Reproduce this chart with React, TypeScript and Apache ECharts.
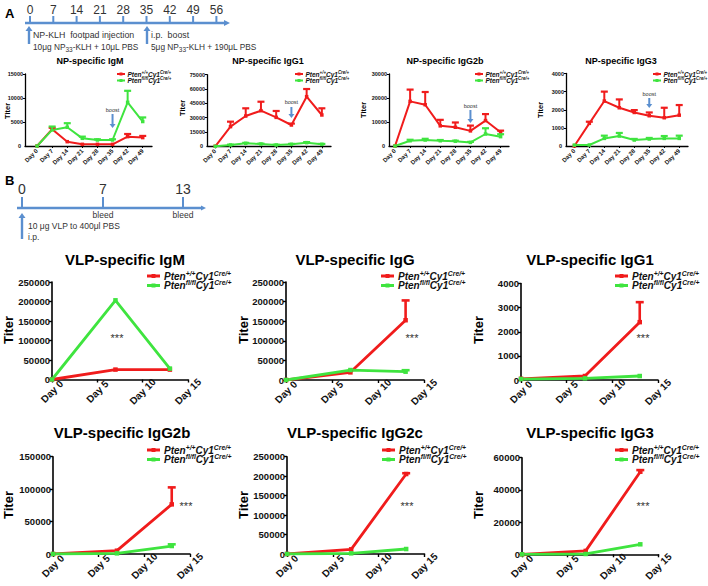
import React, { useEffect, useRef } from 'react';
import * as echarts from 'echarts';

const RED = '#f01c1c';
const GREEN = '#3fe43f';
const BLUE = '#5b8fcf';
const FONT = 'Liberation Sans, Arial, sans-serif';

// ---------- Panel A data (NP-KLH immunization) ----------
const daysA = [0, 7, 14, 21, 28, 35, 42, 49];
const timelineA = [0, 7, 14, 21, 28, 35, 42, 49, 56];

const npIgM_wt = [0, 3500, 900, 350, 350, 350, 1950, 1750];
const npIgM_wtErr = [0, 300, 0, 0, 0, 0, 550, 350];
const npIgM_ko = [0, 3350, 3900, 1600, 1250, 1250, 9100, 5100];
const npIgM_koErr = [0, 700, 850, 350, 150, 150, 2400, 850];

const npIgG1_wt = [0, 20600, 31700, 37300, 30300, 22300, 52000, 32800];
const npIgG1_wtErr = [0, 5200, 8100, 9400, 6700, 1500, 8000, 7000];
const npIgG1_ko = [0, 1400, 3100, 2400, 1400, 2100, 3800, 2100];
const npIgG1_koErr = [0, 300, 500, 400, 300, 400, 600, 400];

const npIgG2b_wt = [0, 18600, 17200, 8400, 7800, 6300, 10600, 5700];
const npIgG2b_wtErr = [0, 4900, 5300, 2500, 2000, 2200, 2700, 700];
const npIgG2b_ko = [0, 2200, 2500, 2200, 2000, 1500, 5000, 3900];
const npIgG2b_koErr = [0, 400, 500, 300, 200, 200, 2400, 1000];

const npIgG3_wt = [0, 1250, 2480, 2110, 1850, 1670, 1560, 1700];
const npIgG3_wtErr = [0, 90, 520, 460, 130, 180, 550, 560];
const npIgG3_ko = [50, 55, 420, 550, 330, 385, 420, 420];
const npIgG3_koErr = [0, 0, 150, 170, 60, 60, 130, 150];

// ---------- Panel B data (VLP immunization) ----------
const daysB = [0, 7, 13];
const timelineB = [0, 7, 13];

const vlpIgM_wt = [0, 25400, 25400];
const vlpIgM_wtErr = [0, 0, 0];
const vlpIgM_ko = [0, 203000, 28000];
const vlpIgM_koErr = [0, 0, 0];

const vlpIgG_wt = [0, 19500, 152500];
const vlpIgG_wtErr = [0, 0, 50500];
const vlpIgG_ko = [0, 25400, 21200];
const vlpIgG_koErr = [0, 0, 3800];

const vlpIgG1_wt = [50, 165, 2400];
const vlpIgG1_wtErr = [0, 0, 830];
const vlpIgG1_ko = [40, 70, 165];
const vlpIgG1_koErr = [0, 0, 0];

const vlpIgG2b_wt = [0, 5100, 76500];
const vlpIgG2b_wtErr = [0, 0, 26200];
const vlpIgG2b_ko = [0, 1000, 12300];
const vlpIgG2b_koErr = [0, 0, 2600];

const vlpIgG2c_wt = [0, 12000, 205500];
const vlpIgG2c_wtErr = [0, 0, 2000];
const vlpIgG2c_ko = [0, 1700, 12800];
const vlpIgG2c_koErr = [0, 0, 0];

const vlpIgG3_wt = [0, 2100, 51300];
const vlpIgG3_wtErr = [0, 0, 1000];
const vlpIgG3_ko = [0, 200, 6200];
const vlpIgG3_koErr = [0, 0, 0];

type Panel = {
  title: string;
  tx: number; ty: number;
  g: { left: number; top: number; width: number; height: number };
  xMin: number; xMax: number;
  yMax: number; yInt: number;
  days: number[];
  wt: number[]; wtErr: number[]; ko: number[]; koErr: number[];
  legX: number; legY1: number; legY2: number;
  titer: [number, number];
  stars?: [number, number];
  boost?: [number, number, number];
  small: boolean;
};

const panelsA: Panel[] = [
  { title: 'NP-specific IgM', tx: 90, ty: 61, g: { left: 25, top: 74, width: 127, height: 72 }, xMin: -5.6, xMax: 53.3, yMax: 15000, yInt: 5000, days: daysA, wt: npIgM_wt, wtErr: npIgM_wtErr, ko: npIgM_ko, koErr: npIgM_koErr, legX: 117, legY1: 74, legY2: 80.5, titer: [7, 111], boost: [110, 114, 128], small: true },
  { title: 'NP-specific IgG1', tx: 268, ty: 61, g: { left: 207, top: 74.7, width: 124, height: 71.6 }, xMin: -3.8, xMax: 53.2, yMax: 75000, yInt: 15000, days: daysA, wt: npIgG1_wt, wtErr: npIgG1_wtErr, ko: npIgG1_ko, koErr: npIgG1_koErr, legX: 295, legY1: 74, legY2: 80.5, titer: [182, 108], boost: [102, 107, 118], small: true },
  { title: 'NP-specific IgG2b', tx: 445, ty: 61, g: { left: 389, top: 74, width: 120, height: 72 }, xMin: -2.8, xMax: 52.9, yMax: 30000, yInt: 10000, days: daysA, wt: npIgG2b_wt, wtErr: npIgG2b_wtErr, ko: npIgG2b_ko, koErr: npIgG2b_koErr, legX: 475, legY1: 74, legY2: 80.5, titer: [363, 110], boost: [106, 110, 123], small: true },
  { title: 'NP-specific IgG3', tx: 621, ty: 61, g: { left: 566, top: 73.5, width: 122, height: 72.5 }, xMin: -3.9, xMax: 53.1, yMax: 4000, yInt: 1000, days: daysA, wt: npIgG3_wt, wtErr: npIgG3_wtErr, ko: npIgG3_ko, koErr: npIgG3_koErr, legX: 653, legY1: 74, legY2: 80.5, titer: [540, 110], boost: [94, 98, 108], small: true },
];

const panelsB: Panel[] = [
  { title: 'VLP-specific IgM', tx: 125, ty: 259, g: { left: 52, top: 282, width: 136, height: 97.5 }, xMin: 0, xMax: 15, yMax: 250000, yInt: 50000, days: daysB, wt: vlpIgM_wt, wtErr: vlpIgM_wtErr, ko: vlpIgM_ko, koErr: vlpIgM_koErr, legX: 147, legY1: 276, legY2: 285.5, titer: [8, 330], stars: [117, 338], small: false },
  { title: 'VLP-specific IgG', tx: 355, ty: 259, g: { left: 286, top: 282, width: 138, height: 98 }, xMin: 0, xMax: 15, yMax: 250000, yInt: 50000, days: daysB, wt: vlpIgG_wt, wtErr: vlpIgG_wtErr, ko: vlpIgG_ko, koErr: vlpIgG_koErr, legX: 381, legY1: 276, legY2: 285.5, titer: [243, 330], stars: [412, 338], small: false },
  { title: 'VLP-specific IgG1', tx: 590, ty: 259, g: { left: 521, top: 283.6, width: 137, height: 96.4 }, xMin: 0, xMax: 15, yMax: 4000, yInt: 1000, days: daysB, wt: vlpIgG1_wt, wtErr: vlpIgG1_wtErr, ko: vlpIgG1_ko, koErr: vlpIgG1_koErr, legX: 615, legY1: 276, legY2: 285.5, titer: [478, 330], stars: [643, 338], small: false },
  { title: 'VLP-specific IgG2b', tx: 122, ty: 432, g: { left: 53, top: 456.7, width: 137, height: 97.3 }, xMin: 0, xMax: 15, yMax: 150000, yInt: 50000, days: daysB, wt: vlpIgG2b_wt, wtErr: vlpIgG2b_wtErr, ko: vlpIgG2b_ko, koErr: vlpIgG2b_koErr, legX: 147, legY1: 450, legY2: 459.5, titer: [8, 505], stars: [186, 506], small: false },
  { title: 'VLP-specific IgG2c', tx: 355, ty: 432, g: { left: 287, top: 456.7, width: 137.5, height: 97.3 }, xMin: 0, xMax: 15, yMax: 250000, yInt: 50000, days: daysB, wt: vlpIgG2c_wt, wtErr: vlpIgG2c_wtErr, ko: vlpIgG2c_ko, koErr: vlpIgG2c_koErr, legX: 382, legY1: 450, legY2: 459.5, titer: [243, 505], stars: [407, 506], small: false },
  { title: 'VLP-specific IgG3', tx: 590, ty: 432, g: { left: 522, top: 457.7, width: 136.5, height: 96.6 }, xMin: 0, xMax: 15, yMax: 60000, yInt: 20000, days: daysB, wt: vlpIgG3_wt, wtErr: vlpIgG3_wtErr, ko: vlpIgG3_ko, koErr: vlpIgG3_koErr, legX: 615, legY1: 450, legY2: 459.5, titer: [478, 505], stars: [643, 506], small: false },
];

function txt(x: number, y: number, text: string, fontSize: number, o: any = {}) {
  return {
    type: 'text', x, y, silent: true, rotation: o.rot || 0, z: 10,
    style: {
      text, fontSize, fontFamily: FONT, fill: o.fill || '#1a1a1a',
      fontWeight: o.bold ? 'bold' : 'normal', fontStyle: o.italic ? 'italic' : 'normal',
      align: o.align || 'left', verticalAlign: o.va || 'middle',
      textAlign: o.align || 'left', textVerticalAlign: o.va || 'middle',
      rich: o.rich,
    },
  };
}
function ln(x1: number, y1: number, x2: number, y2: number, color: string, w: number) {
  return { type: 'line', silent: true, z: 10, shape: { x1, y1, x2, y2 }, style: { stroke: color, lineWidth: w } };
}
function poly(points: number[][], color: string) {
  return { type: 'polygon', silent: true, z: 10, shape: { points }, style: { fill: color } };
}
function arrowUp(x: number, yHead: number, yTail: number, w: number, hl: number, hw: number) {
  return [ln(x, yTail, x, yHead + hl, BLUE, w), poly([[x - hw, yHead + hl], [x + hw, yHead + hl], [x, yHead]], BLUE)];
}
function arrowDown(x: number, yTail: number, yHead: number, w: number, hl: number, hw: number) {
  return [ln(x, yTail, x, yHead - hl, BLUE, w), poly([[x - hw, yHead - hl], [x + hw, yHead - hl], [x, yHead]], BLUE)];
}

function legendRich(fs: number) {
  const base = { fontFamily: FONT, fontStyle: 'italic', fontWeight: 'bold', fontSize: fs, fill: '#111', color: '#111' };
  const sup = { fontFamily: FONT, fontStyle: 'italic', fontWeight: 'bold', fontSize: fs * 0.68, fill: '#111', color: '#111', padding: [0, 0, fs * 0.6, 0] };
  return { i: base, s: sup };
}

function buildOption() {
  const grid: any[] = [];
  const xAxis: any[] = [];
  const yAxis: any[] = [];
  const series: any[] = [];
  const graphic: any[] = [];

  const all = [...panelsA, ...panelsB];
  all.forEach((p, idx) => {
    const s = p.small;
    grid.push({ ...p.g, containLabel: false });
    const axisLine = { show: true, onZero: false, lineStyle: { color: '#000', width: s ? 1.3 : 1.6 } };
    const xa: any = {
      type: 'value', gridIndex: idx, min: p.xMin, max: p.xMax,
      axisLine, splitLine: { show: false },
      axisTick: { show: true, length: s ? 2 : 3, lineStyle: { color: '#000', width: s ? 1 : 1.4 } },
      axisLabel: {
        rotate: 45, fontSize: s ? 6 : 10, fontWeight: 'bold', fontFamily: FONT, color: '#111',
        formatter: (v: number) => 'Day ' + v, hideOverlap: false,
        showMinLabel: true, showMaxLabel: true,
      },
    };
    if (s) {
      xa.axisLabel.customValues = p.days;
      xa.axisTick.customValues = p.days;
      xa.axisLabel.margin = 4;
    } else {
      xa.interval = 5;
      xa.axisLabel.align = 'center';
      xa.axisLabel.verticalAlign = 'middle';
      xa.axisLabel.margin = 12;
    }
    xAxis.push(xa);
    yAxis.push({
      type: 'value', gridIndex: idx, min: 0, max: p.yMax, interval: p.yInt,
      axisLine, splitLine: { show: false },
      axisTick: { show: true, length: s ? 2 : 3, lineStyle: { color: '#000', width: s ? 1 : 1.4 } },
      axisLabel: {
        fontSize: s ? 5.5 : 9.5, fontWeight: 'bold', fontFamily: FONT, color: '#111', margin: 2,
        formatter: (v: number) => String(v), showMinLabel: !s, showMaxLabel: true, hideOverlap: false,
      },
    });
    if (s) {
      // zero label of the small panels (ECharts hides it next to the rotated "Day 0")
      graphic.push(txt(p.g.left - 4, p.g.top + p.g.height, '0', 5.5, { bold: true, align: 'right', fill: '#111' }));
    }

    const lw = s ? 2 : 2.8;
    const groups: [number[], number[], string][] = [[p.wt, p.wtErr, RED], [p.ko, p.koErr, GREEN]];
    groups.forEach(([vals, errs, color]) => {
      series.push({
        type: 'line', xAxisIndex: idx, yAxisIndex: idx, silent: true,
        data: p.days.map((d, i) => [d, vals[i]]),
        symbol: 'rect', symbolSize: s ? 3.5 : 4.5,
        itemStyle: { color }, lineStyle: { color, width: lw }, z: 3,
      });
      const eb = p.days.map((d, i) => [d, vals[i], vals[i] + errs[i]]).filter((e) => e[2] > e[1]);
      if (eb.length) {
        series.push({
          type: 'custom', xAxisIndex: idx, yAxisIndex: idx, silent: true, z: 4,
          data: eb, encode: { x: 0, y: [1, 2] },
          renderItem: (_params: any, api: any) => {
            const lo = api.coord([api.value(0), api.value(1)]);
            const hi = api.coord([api.value(0), api.value(2)]);
            const cap = s ? 3.5 : 4;
            return {
              type: 'group',
              children: [
                { type: 'line', shape: { x1: lo[0], y1: lo[1], x2: hi[0], y2: hi[1] }, style: { stroke: color, lineWidth: s ? 2 : 2.6 } },
                { type: 'line', shape: { x1: hi[0] - cap, y1: hi[1], x2: hi[0] + cap, y2: hi[1] }, style: { stroke: color, lineWidth: s ? 2.2 : 2.6 } },
              ],
            };
          },
        });
      }
    });

    graphic.push(txt(p.tx, p.ty, p.title, s ? 9 : 15, { bold: true, align: 'center', fill: '#000' }));
    graphic.push(txt(p.titer[0], p.titer[1], 'Titer', s ? 7.5 : 13, { bold: true, align: 'center', rot: Math.PI / 2, fill: '#000' }));
    const fs = s ? 6.5 : 10;
    const mw = s ? 8 : 13;
    [[p.legY1, RED, '{i|Pten}{s|+/+}{i|Cy1}{s|Cre/+}'], [p.legY2, GREEN, '{i|Pten}{s|fl/fl}{i|Cy1}{s|Cre/+}']].forEach(([y, c, t]: any) => {
      graphic.push(ln(p.legX, y, p.legX + mw, y, c, s ? 2 : 3));
      graphic.push({ type: 'rect', silent: true, z: 10, shape: { x: p.legX + mw / 2 - (s ? 1.5 : 2), y: y - (s ? 1.5 : 2), width: s ? 3 : 4, height: s ? 3 : 4 }, style: { fill: c } });
      graphic.push(txt(p.legX + mw + (s ? 2.5 : 4), y, t, fs, { rich: legendRich(fs) }));
    });
    if (p.stars) graphic.push(txt(p.stars[0], p.stars[1], '***', 11, { align: 'center', fill: '#333' }));
    if (p.boost) {
      const bx = p.g.left + ((35 - p.xMin) / (p.xMax - p.xMin)) * p.g.width;
      graphic.push(txt(bx, p.boost[0], 'boost', 5.5, { align: 'center', fill: '#333' }));
      graphic.push(...arrowDown(bx, p.boost[1], p.boost[2], 2, 4, 3));
    }
  });

  graphic.push(txt(5, 13, 'A', 13, { bold: true, fill: '#000' }));
  graphic.push(txt(5, 180, 'B', 13, { bold: true, fill: '#000' }));

  // ---- Timeline A ----
  graphic.push(ln(25, 23, 226, 23, BLUE, 2.4));
  graphic.push(poly([[224, 20], [224, 26], [230, 23]], BLUE));
  timelineA.forEach((d, i) => {
    const x = 30 + 23.3 * i;
    graphic.push(ln(x, 16, x, 23, BLUE, 2));
    graphic.push(txt(x, 10, String(d), 12, { align: 'center', fill: '#333' }));
  });
  graphic.push(...arrowUp(29, 26, 44, 2.4, 5, 3.5));
  graphic.push(...arrowUp(147, 26, 44, 2.4, 5, 3.5));
  const subRich = { n: { fontSize: 8.3, fontFamily: FONT, fill: '#333' }, b: { fontSize: 6.5, fontFamily: FONT, fill: '#333', padding: [4, 0, 0, 0] } };
  graphic.push(txt(33, 35, 'NP-KLH  footpad injection', 8.8, { fill: '#333' }));
  graphic.push(txt(33, 47, '{n|10μg NP}{b|33}{n|-KLH + 10μL PBS}', 8.3, { fill: '#333', rich: subRich }));
  graphic.push(txt(151, 35, 'i.p.  boost', 8.8, { fill: '#333' }));
  graphic.push(txt(151, 47, '{n|5μg NP}{b|33}{n|-KLH + 190μL PBS}', 8.3, { fill: '#333', rich: subRich }));

  // ---- Timeline B ----
  graphic.push(ln(17, 208, 202, 208, BLUE, 2.4));
  graphic.push(poly([[201, 205.5], [201, 210.5], [206, 208]], BLUE));
  const tbx = [22, 103, 183];
  timelineB.forEach((d, i) => {
    graphic.push(ln(tbx[i], 197, tbx[i], 208, BLUE, 2));
    graphic.push(txt(tbx[i], 189, String(d), 14, { align: 'center', fill: '#333' }));
  });
  graphic.push(txt(103, 214.5, 'bleed', 8.5, { align: 'center', fill: '#333' }));
  graphic.push(txt(183, 214.5, 'bleed', 8.5, { align: 'center', fill: '#333' }));
  graphic.push(...arrowUp(22, 213, 239, 2.4, 5, 3.5));
  graphic.push(txt(28, 225.5, '10 μg VLP to 400μl PBS', 8.5, { fill: '#333' }));
  graphic.push(txt(28, 236.5, 'i.p.', 8.5, { fill: '#333' }));

  return {
    animation: false,
    backgroundColor: '#ffffff',
    grid, xAxis, yAxis, series, graphic,
  };
}

export default function App() {
  const ref = useRef<HTMLDivElement>(null);
  useEffect(() => {
    if (!ref.current) return;
    const chart = echarts.init(ref.current, undefined, { renderer: 'svg' });
    chart.setOption(buildOption() as any);
    return () => chart.dispose();
  }, []);
  return <div ref={ref} style={{ position: 'absolute', left: 0, top: 0, width: 708, height: 586, background: '#fff' }} />;
}
